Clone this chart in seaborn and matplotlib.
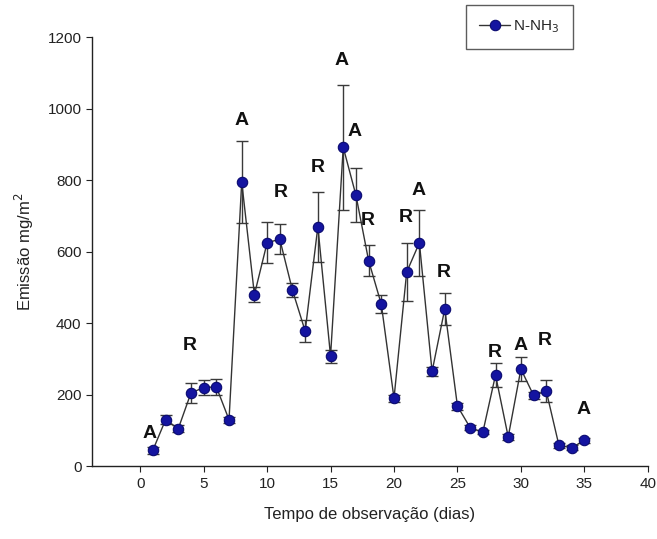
import numpy as np
import pandas as pd
import matplotlib
matplotlib.use("Agg")
import matplotlib.pyplot as plt
import seaborn as sns

# Daily N-NH3 emission (mg/m2) with standard deviation
dias = list(range(1, 36))
emissao = [45, 130, 105, 205, 220, 222, 130, 795, 480, 625,
           635, 492, 378, 670, 308, 892, 758, 575, 453, 190,
           543, 625, 265, 440, 168, 108, 95, 255, 82, 272,
           198, 210, 58, 52, 72]
desvio = [10, 12, 10, 27, 20, 22, 8, 116, 20, 57,
          42, 20, 30, 98, 18, 175, 75, 43, 25, 10,
          80, 92, 12, 44, 10, 8, 6, 33, 8, 33,
          10, 30, 6, 6, 8]

# Letter annotations (A / R) and their positions
rotulos = ["A", "R", "A", "R", "R", "A", "A", "R", "R", "A", "R", "R", "A", "R", "A"]
rot_x = [0.7, 3.9, 8.0, 11.1, 14.0, 15.9, 16.9, 17.95, 20.9, 21.9, 23.9, 27.9, 30.0, 31.9, 34.9]
rot_y = [92, 338, 968, 766, 836, 1136, 937, 688, 697, 772, 543, 319, 338, 352, 159]

df = pd.DataFrame({"dia": dias, "emissao": emissao, "desvio": desvio})

sns.set_style("ticks")
plt.rcParams["font.family"] = ["Liberation Sans", "DejaVu Sans"]

fig = plt.figure(figsize=(6.57, 5.39), dpi=100)
ax = fig.add_axes([0.140, 0.135, 0.846, 0.796])

ax.errorbar(df["dia"], df["emissao"], yerr=df["desvio"], fmt="none",
            ecolor="#3a3a3a", elinewidth=1.0, capsize=4, capthick=1.0, zorder=2)
sns.lineplot(data=df, x="dia", y="emissao", ax=ax, color="#333333", linewidth=1.0,
             marker="o", markersize=7.5, markerfacecolor="#1414a0",
             markeredgecolor="#0a0a70", markeredgewidth=0.8,
             label="N-NH$_3$", zorder=3)

for t, x, y in zip(rotulos, rot_x, rot_y):
    ax.text(x, y, t, ha="center", va="center", fontsize=14, fontweight="bold",
            color="#111111")

ax.set_xlim(-3.8, 40)
ax.set_ylim(0, 1200)
ax.set_xticks(range(0, 41, 5))
ax.set_yticks(range(0, 1201, 200))
ax.tick_params(axis="both", labelsize=11, colors="#222222", direction="out", length=4)
for s in ["top", "right"]:
    ax.spines[s].set_visible(False)
for s in ["left", "bottom"]:
    ax.spines[s].set_color("#222222")
    ax.spines[s].set_linewidth(1.0)

ax.set_xlabel("Tempo de observação (dias)", fontsize=12, color="#222222", labelpad=12)
ax.set_ylabel("Emissão mg/m$^2$", fontsize=12, color="#222222", labelpad=8)

leg = ax.legend(loc="upper right", bbox_to_anchor=(0.865, 1.075), borderaxespad=0,
                frameon=True, fancybox=False, edgecolor="#333333", fontsize=11,
                handlelength=2.0, handletextpad=0.2, borderpad=0.9)
leg.get_frame().set_linewidth(1.0)

fig.savefig("out.png", dpi=100)
